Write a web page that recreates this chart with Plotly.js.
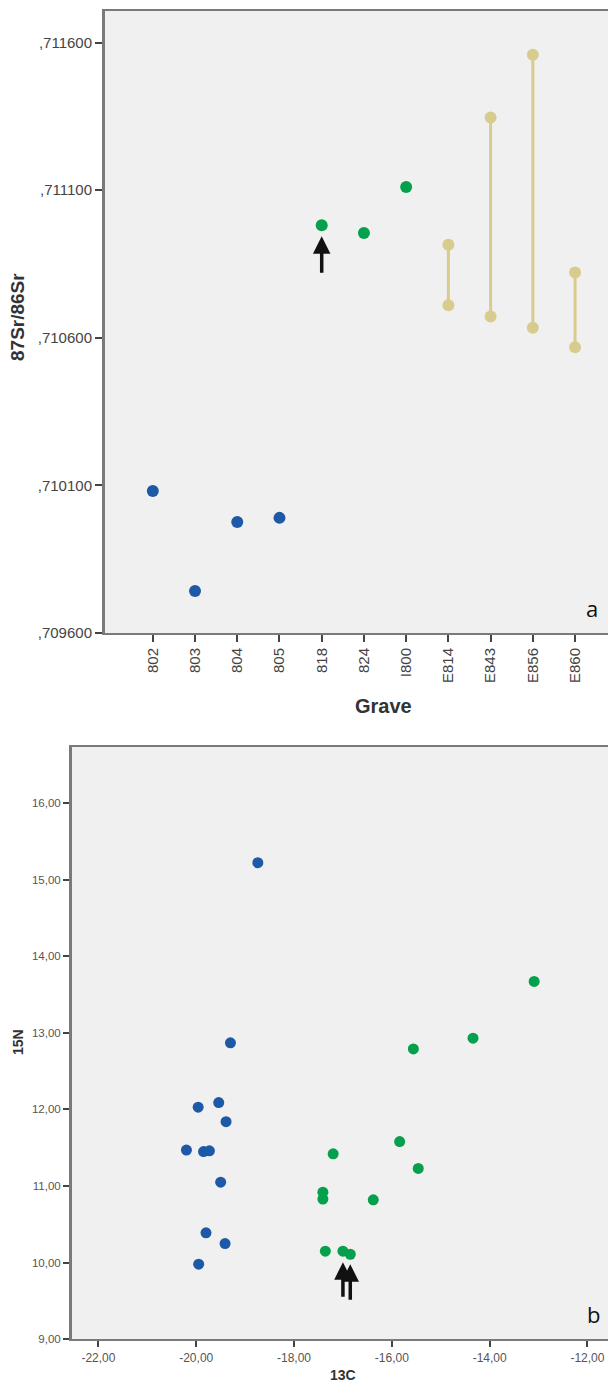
<!DOCTYPE html>
<html><head><meta charset="utf-8">
<script src="https://cdn.plot.ly/plotly-3.0.1.min.js"></script>
<style>html,body{margin:0;padding:0;background:#fff;overflow:hidden}#chart{width:608px;height:1387px}</style>
</head><body><div id="chart"></div>
<script>
// ---- Chart a: 87Sr/86Sr by grave ----
const graves = ['802','803','804','805','818','824','I800','E814','E843','E856','E860'];
const blueGraves = ['802','803','804','805'];
const blueSr = [0.710081, 0.709742, 0.709976, 0.709990];
const greenGraves = ['818','824','I800'];
const greenSr = [0.710981, 0.710955, 0.711111];
const tanGraves = ['E814','E843','E856','E860'];
const tanSrHigh = [0.710915, 0.711346, 0.711559, 0.710821];
const tanSrLow = [0.710710, 0.710672, 0.710634, 0.710568];
const srTickVals = [0.7096, 0.7101, 0.7106, 0.7111, 0.7116];
const srTickText = [',709600', ',710100', ',710600', ',711100', ',711600'];

// ---- Chart b: 15N vs 13C ----
const blueC13 = [-18.74, -19.30, -19.96, -19.54, -19.39, -20.20, -19.85, -19.73, -19.50, -19.80, -19.41, -19.95];
const blueN15 = [15.22, 12.87, 12.03, 12.09, 11.84, 11.47, 11.45, 11.46, 11.05, 10.39, 10.25, 9.98];
const greenC13 = [-13.09, -14.34, -15.56, -15.84, -15.46, -17.20, -17.41, -17.41, -16.38, -17.36, -17.00, -16.85];
const greenN15 = [13.67, 12.93, 12.79, 11.58, 11.23, 11.42, 10.92, 10.83, 10.82, 10.15, 10.15, 10.11];
const n15TickVals = [9, 10, 11, 12, 13, 14, 15, 16];
const n15TickText = ['9,00','10,00','11,00','12,00','13,00','14,00','15,00','16,00'];
const c13TickVals = [-22, -20, -18, -16, -14, -12];
const c13TickText = ['-22,00','-20,00','-18,00','-16,00','-14,00','-12,00'];

const BLUE = '#1d59a6', GREEN = '#05a04b', TAN = '#d7cc8d';
const W = 608, H = 1387;
const px = v => v / W, py = v => 1 - v / H;
const FONT = 'Liberation Sans, Arial, sans-serif';

const traces = [
  {x: blueGraves, y: blueSr, type: 'scatter', mode: 'markers', xaxis: 'x', yaxis: 'y',
   marker: {color: BLUE, size: 12}},
  {x: greenGraves, y: greenSr, type: 'scatter', mode: 'markers', xaxis: 'x', yaxis: 'y',
   marker: {color: GREEN, size: 12}}
];
tanGraves.forEach((g, i) => {
  traces.push({x: [g, g], y: [tanSrLow[i], tanSrHigh[i]], type: 'scatter', mode: 'lines+markers',
    xaxis: 'x', yaxis: 'y', line: {color: TAN, width: 3}, marker: {color: TAN, size: 12}});
});
traces.push({x: blueC13, y: blueN15, type: 'scatter', mode: 'markers', xaxis: 'x2', yaxis: 'y2',
  marker: {color: BLUE, size: 11}});
traces.push({x: greenC13, y: greenN15, type: 'scatter', mode: 'markers', xaxis: 'x2', yaxis: 'y2',
  marker: {color: GREEN, size: 11}});

const axCommon = {showgrid: false, zeroline: false, ticks: 'outside', tickcolor: '#444',
  showline: true, linecolor: '#7a7a7a', mirror: true};

const arrow = (xref, yref, x, y, ay, standoff) => ({xref, yref, x, y, ax: 0, ay, text: '',
  showarrow: true, arrowhead: 2, arrowsize: 1, arrowwidth: 3.5, arrowcolor: '#111', standoff});

const label = (x, y, text, size, extra) => Object.assign({xref: 'paper', yref: 'paper',
  x: px(x), y: py(y), text, showarrow: false, xanchor: 'center', yanchor: 'middle',
  font: {size, color: '#333'}}, extra || {});

const layout = {
  width: W, height: H, margin: {l: 0, r: 0, t: 0, b: 0},
  paper_bgcolor: '#ffffff', plot_bgcolor: '#f0f0f0', showlegend: false,
  font: {family: FONT, color: '#222'},
  hovermode: false,
  xaxis: Object.assign({}, axCommon, {domain: [px(105), 1], anchor: 'y', type: 'category',
    categoryorder: 'array', categoryarray: graves, range: [-1.132, 10.78], tickangle: -90,
    ticklen: 7, tickwidth: 2, linewidth: 2, tickfont: {size: 15, color: '#444'}}),
  yaxis: Object.assign({}, axCommon, {domain: [py(633), py(11)], anchor: 'x',
    range: [0.7096, 0.711707], tickvals: srTickVals, ticktext: srTickText,
    ticklen: 7, tickwidth: 2, linewidth: 3, tickfont: {size: 15, color: '#444'}}),
  xaxis2: Object.assign({}, axCommon, {domain: [px(72), 1], anchor: 'y2',
    range: [-22.54, -11.58], tickvals: c13TickVals, ticktext: c13TickText,
    ticklen: 6, tickwidth: 2, linewidth: 2, tickfont: {size: 12, color: '#555'}}),
  yaxis2: Object.assign({}, axCommon, {domain: [py(1339.3), py(747)], anchor: 'x2',
    range: [9, 16.73], tickvals: n15TickVals, ticktext: n15TickText,
    ticklen: 6, tickwidth: 2, linewidth: 3, tickfont: {size: 11.5, color: '#555'}}),
  annotations: [
    label(18, 317, '<b>87Sr/86Sr</b>', 19, {textangle: -90}),
    label(383, 706, '<b>Grave</b>', 20),
    label(592, 608, 'a', 22, {font: {size: 22, color: '#111', family: 'Open Sans, sans-serif'}}),
    label(18, 1042, '<b>15N</b>', 14, {textangle: -90}),
    label(343, 1375, '<b>13C</b>', 14),
    label(593, 1314, 'b', 22, {font: {size: 22, color: '#111', family: 'Open Sans, sans-serif'}}),
    arrow('x', 'y', graves.indexOf(greenGraves[0]), greenSr[0], 49, 11),
    arrow('x2', 'y2', greenC13[10], greenN15[10], 47, 11),
    arrow('x2', 'y2', greenC13[11], greenN15[11], 47, 10)
  ]
};

Plotly.newPlot('chart', traces, layout, {displayModeBar: false, staticPlot: true});
</script>
</body></html>
